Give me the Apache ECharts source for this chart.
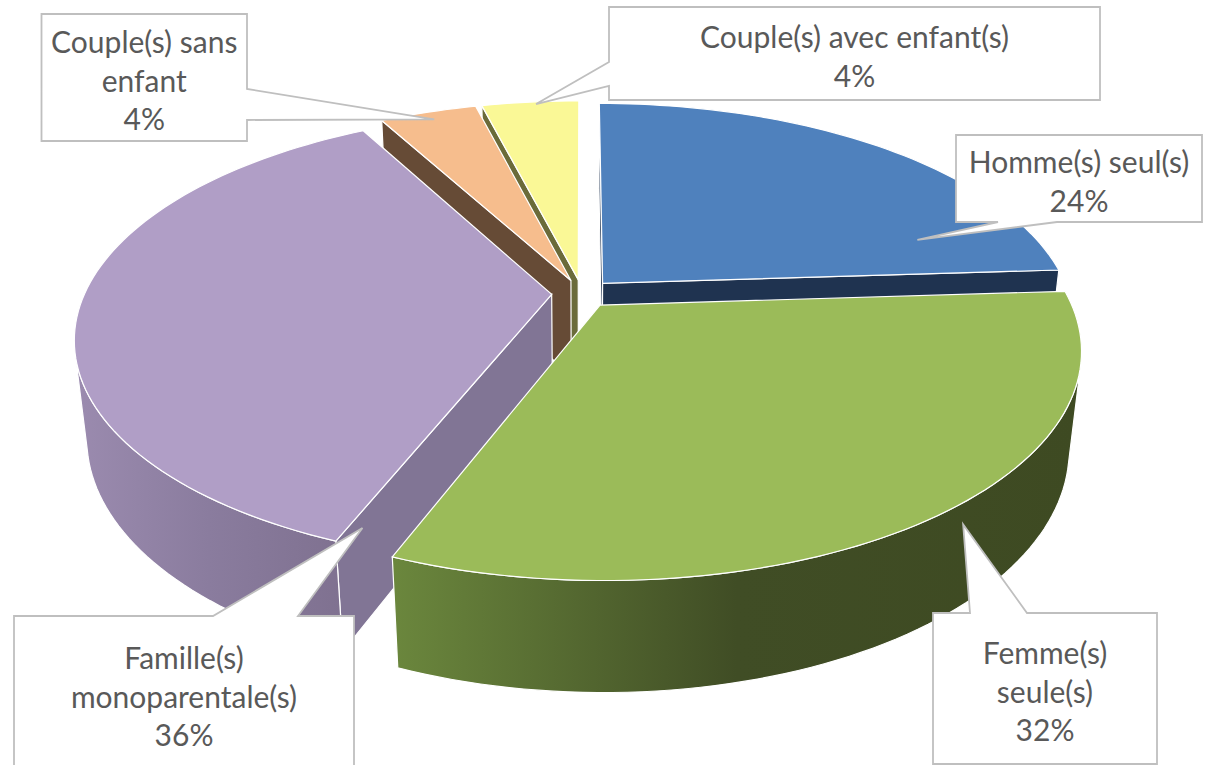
<!DOCTYPE html>
<html>
<head>
<meta charset="utf-8">
<script src="https://cdn.jsdelivr.net/npm/echarts@6/dist/echarts.min.js"></script>
<style>
html, body { margin: 0; padding: 0; background: #fff; }
#main { width: 1211px; height: 765px; }
</style>
</head>
<body>
<div id="main"></div>
<script>
// categories (line breaks as in the Excel callouts) and their shares in %
var categories = ['Homme(s) seul(s)', 'Femme(s)\nseule(s)', 'Famille(s)\nmonoparentale(s)', 'Couple(s) sans\nenfant', 'Couple(s) avec enfant(s)'];
var values = [24, 32, 36, 4, 4];

// colours: top face, radial cut face, outer wall (left -> right)
var topColors = ['#4F81BD', '#9BBB59', '#B09EC6', '#F6BD8D', '#FAF896'];
var cutColors = ['#1F3350', '#4A5F2A', '#817595', '#664B36', '#6B6B3A'];
var wallColors = [
    ['#2A4468', '#1F3350'],
    ['#6B873D', '#404D25', '#3E4A22'],
    ['#9B8BAF', '#8A7C9E', '#7F7190'],
    ['#7A5A40', '#664B36'],
    ['#8A8A4A', '#6B6B3A']
];

// 3d view of the pie (perspective camera looking down)
var view = { cx: 582, cy: 293.5, R: 467, D: 4.626, tilt: 27.8, h: 0.24, explode: 0.065 };

// callout boxes: box rect, side of the pointer, where it leaves the box,
// tip on the slice [angle, r, height] (angle null = on the slice's first edge)
var callouts = [
    { x: 956, y: 135, w: 246, h: 87, side: 'bottom', at: [998, 1057], tip: [73.4, 0.74, 0] },
    { x: 933, y: 613, w: 224, h: 151, side: 'top', at: [970, 1027], tip: [139, 1, -0.05] },
    { x: 14, y: 616, w: 340, h: 170, side: 'top', at: [213, 298], tip: [null, 0.9, -0.035] },
    { x: 41.5, y: 14, w: 205.5, h: 127, side: 'right', at: [89, 120], tip: [338.4, 0.95, 0] },
    { x: 609, y: 7, w: 491, h: 93, side: 'left', at: [62, 86], tip: [353.6, 0.985, 0] }
];

var total = values.reduce(function (a, b) { return a + b; }, 0);
var slices = [];
var acc = 0;
values.forEach(function (v) {
    var a0 = acc / total * 360;
    acc += v;
    var a1 = acc / total * 360;
    slices.push({ a0: a0, a1: a1, mid: (a0 + a1) / 2 });
});

function rad(d) { return d * Math.PI / 180; }
var sT = Math.sin(rad(view.tilt)), cT = Math.cos(rad(view.tilt));
var cam = [0, view.D * sT, -view.D * cT];
// outer wall is only seen between these angles
var wallFrom = Math.acos(-1 / (view.D * cT)) * 180 / Math.PI;
var wallTo = 360 - wallFrom;

function proj(x, y, z) {
    var yc = y * cT + z * sT;
    var zc = view.D + z * cT - y * sT;
    var f = view.R * view.D;
    return [view.cx + f * x / zc, view.cy - f * yc / zc];
}
function offset(i) {
    var m = rad(slices[i].mid), e = view.explode;
    return [e * Math.sin(m), e * Math.cos(m)];
}
// point of slice i : angle a (clockwise from back), radius r, height y (0 top, -h bottom)
function pt(i, a, r, y) {
    var o = offset(i);
    return proj(o[0] + r * Math.sin(rad(a)), y, o[1] + r * Math.cos(rad(a)));
}
function arc(i, a0, a1, y) {
    var n = Math.max(2, Math.ceil(Math.abs(a1 - a0) / 1.5));
    var pts = [];
    for (var k = 0; k <= n; k++) pts.push(pt(i, a0 + (a1 - a0) * k / n, 1, y));
    return pts;
}

function renderCuts(params) {
    var i = params.dataIndex, s = slices[i], kids = [];
    var o = offset(i);
    [[s.a0, -1], [s.a1, 1]].forEach(function (c) {
        var a = rad(c[0]);
        var px = o[0] + 0.5 * Math.sin(a), pz = o[1] + 0.5 * Math.cos(a);
        var nx = c[1] * Math.cos(a), nz = -c[1] * Math.sin(a);
        if (nx * (cam[0] - px) + nz * (cam[2] - pz) <= 0) return;
        var pts = [pt(i, 0, 0, 0), pt(i, c[0], 1, 0), pt(i, c[0], 1, -view.h), pt(i, 0, 0, -view.h)];
        kids.push({
            type: 'polygon',
            z2: Math.round((2 - pz) * 100),
            shape: { points: pts },
            style: { fill: cutColors[i], stroke: '#fff', lineWidth: 1.2 }
        });
    });
    return { type: 'group', children: kids };
}

function renderWall(params) {
    var i = params.dataIndex, s = slices[i];
    var lo = Math.max(s.a0, wallFrom), hi = Math.min(s.a1, wallTo);
    if (lo >= hi) return { type: 'group', children: [] };
    var pts = arc(i, lo, hi, 0).concat(arc(i, hi, lo, -view.h));
    var cols = wallColors[i];
    var stops = cols.map(function (c, k) { return { offset: k / (cols.length - 1), color: c }; });
    return {
        type: 'polygon',
        shape: { points: pts },
        style: { fill: new echarts.graphic.LinearGradient(0, 0, 1, 0, stops), stroke: '#fff', lineWidth: 1.2 }
    };
}

function renderTop(params) {
    var i = params.dataIndex, s = slices[i];
    var pts = [pt(i, 0, 0, 0)].concat(arc(i, s.a0, s.a1, 0));
    return { type: 'polygon', shape: { points: pts }, style: { fill: topColors[i], stroke: '#fff', lineWidth: 1.2 } };
}

function renderCallout(params, api) {
    var i = params.dataIndex, b = callouts[i];
    var tip = pt(i, b.tip[0] === null ? slices[i].a0 : b.tip[0], b.tip[1], b.tip[2]);
    var L = b.x, T = b.y, Rr = b.x + b.w, B = b.y + b.h;
    var p;
    if (b.side === 'top') p = [[L, T], [b.at[0], T], tip, [b.at[1], T], [Rr, T], [Rr, B], [L, B]];
    else if (b.side === 'bottom') p = [[L, T], [Rr, T], [Rr, B], [b.at[1], B], tip, [b.at[0], B], [L, B]];
    else if (b.side === 'right') p = [[L, T], [Rr, T], [Rr, b.at[0]], tip, [Rr, b.at[1]], [Rr, B], [L, B]];
    else p = [[L, T], [Rr, T], [Rr, B], [L, B], [L, b.at[1]], tip, [L, b.at[0]]];
    var pct = Math.round(api.value(0) / total * 100) + '%';
    var lines = categories[i].split('\n').concat([pct]);
    var lh = 38.5;
    var top = T + b.h / 2 - (lines.length - 1) * lh / 2 + 2;
    if (B > 765) top = T + 41;
    var kids = [{ type: 'polygon', shape: { points: p }, style: { fill: '#fff', stroke: '#BFBFBF', lineWidth: 1.8 } }];
    lines.forEach(function (t, k) {
        kids.push({
            type: 'text',
            x: L + b.w / 2,
            y: top + k * lh,
            style: { text: t, fill: '#595959', fontSize: 30, fontFamily: 'Lato', align: 'center', verticalAlign: 'middle' }
        });
    });
    return { type: 'group', children: kids };
}

var chart = echarts.init(document.getElementById('main'), null, { renderer: 'svg' });
function customSeries(z, fn) {
    return { type: 'custom', coordinateSystem: 'none', silent: true, z: z, data: values, renderItem: fn };
}
chart.setOption({
    animation: false,
    series: [
        customSeries(1, renderCuts),
        customSeries(2, renderWall),
        customSeries(3, renderTop),
        customSeries(4, renderCallout)
    ]
});
</script>
</body>
</html>
